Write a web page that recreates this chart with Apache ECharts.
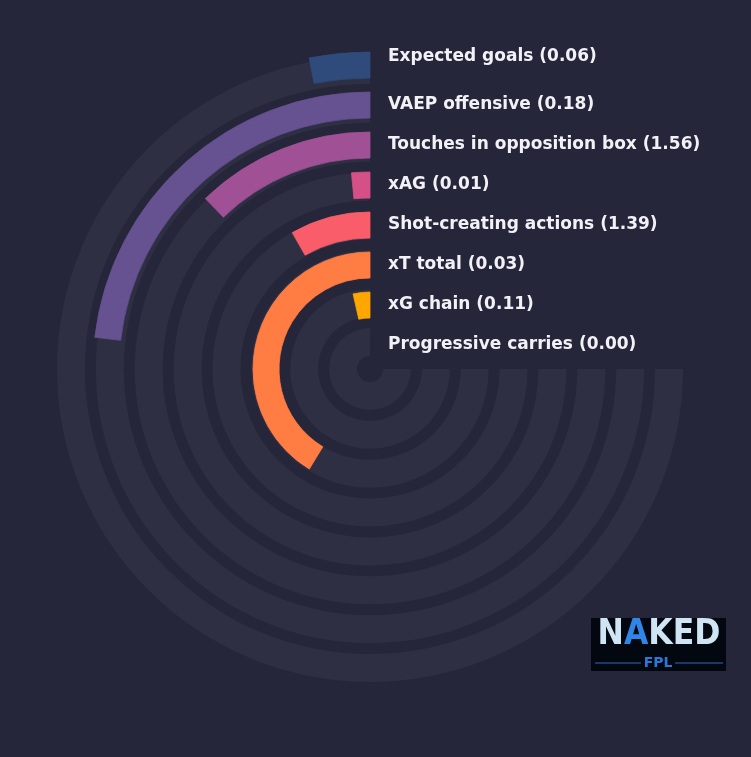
<!DOCTYPE html>
<html><head><meta charset="utf-8">
<script src="https://cdn.jsdelivr.net/npm/echarts@6/dist/echarts.min.js"></script>
<style>html,body{margin:0;padding:0;background:#252639;}#c{width:751px;height:757px;}</style>
</head><body><div id="c"></div>
<script>
// Display order: top (outermost ring) to bottom (innermost ring)
const metrics = ['Expected goals','VAEP offensive','Touches in opposition box','xAG','Shot-creating actions','xT total','xG chain','Progressive carries'];
const rawValues = ['0.06','0.18','1.56','0.01','1.39','0.03','0.11','0.00'];
const percentiles = [4.1, 30.9, 16.3, 2.0, 11.0, 55.1, 4.7, 0];
const colors = ['#2f4b7c','#665191','#a05195','#d45087','#f95d6a','#ff7c43','#ffa600','#003f5c'];
const trackValue = 100;           // full track = 270 degrees
const angleMax = trackValue * 360 / 270;

const ringCats = metrics.slice().reverse();           // inner -> outer
const ringVals = percentiles.slice().reverse();
const ringCols = colors.slice().reverse();

const chart = echarts.init(document.getElementById('c'), null, {renderer:'canvas'});
const hiddenAngle = i => ({polarIndex:i, type:'value', min:0, max:angleMax, startAngle:90, clockwise:false,
  axisLine:{show:false}, axisTick:{show:false}, axisLabel:{show:false}, splitLine:{show:false}});
const hiddenRadius = i => ({polarIndex:i, type:'category', data:ringCats,
  axisLine:{show:false}, axisTick:{show:false}, axisLabel:{show:false}, splitLine:{show:false}});

chart.setOption({
  backgroundColor:'#252639',
  animation:false,
  polar:[
    {center:[370,369], radius:[7.5,318.5]},
    {center:[370,369], radius:[4,324]}
  ],
  angleAxis:[hiddenAngle(0), hiddenAngle(1)],
  radiusAxis:[hiddenRadius(0), hiddenRadius(1)],
  series:[
    {type:'bar', coordinateSystem:'polar', polarIndex:0, barWidth:28, silent:true,
     data: ringCats.map(() => trackValue), itemStyle:{color:'#2e2f43'}},
    {type:'bar', coordinateSystem:'polar', polarIndex:1, barWidth:26, silent:true,
     data: ringVals.map((v,i) => ({value:v, itemStyle:{color:ringCols[i], borderColor:ringCols[i], borderWidth:0.8}}))}
  ]
});

const texts = metrics.map((m,i) => {
  const idx = ringCats.indexOf(m);
  const p = chart.convertToPixel({polarIndex:1}, [idx, 0]);
  const dy = (i === 0) ? -8 : 0;
  return {type:'text', x:p[0]+18, y:p[1]+dy,
    style:{text: m + ' (' + rawValues[i] + ')', fill:'#f1f1f6', fontFamily:'DejaVu Sans', fontWeight:'bold', fontSize:17, textVerticalAlign:'middle', textAlign:'left'}};
});

const logo = {type:'group', x:591, y:618, children:[
  {type:'rect', shape:{x:0,y:0,width:135,height:53}, style:{fill:'#03070f'}},
  {type:'text', x:68, y:17, scaleX:0.9, style:{
    text:'{w|N}{b|A}{w|KED}', textAlign:'center', textVerticalAlign:'middle',
    rich:{w:{fill:'#cfe5f4', fontFamily:'DejaVu Sans', fontWeight:'bold', fontSize:35}, b:{fill:'#2f86e6', fontFamily:'DejaVu Sans', fontWeight:'bold', fontSize:35}}}},
  {type:'line', shape:{x1:4,y1:45,x2:50,y2:45}, style:{stroke:'#2a6cc4', lineWidth:1}},
  {type:'line', shape:{x1:84,y1:45,x2:132,y2:45}, style:{stroke:'#2a6cc4', lineWidth:1}},
  {type:'text', x:67, y:45, style:{text:'FPL', fill:'#2a78dc', fontFamily:'DejaVu Sans', fontWeight:'bold', fontSize:14, textAlign:'center', textVerticalAlign:'middle'}}
]};

chart.setOption({graphic: texts.concat([logo])});
</script></body></html>
